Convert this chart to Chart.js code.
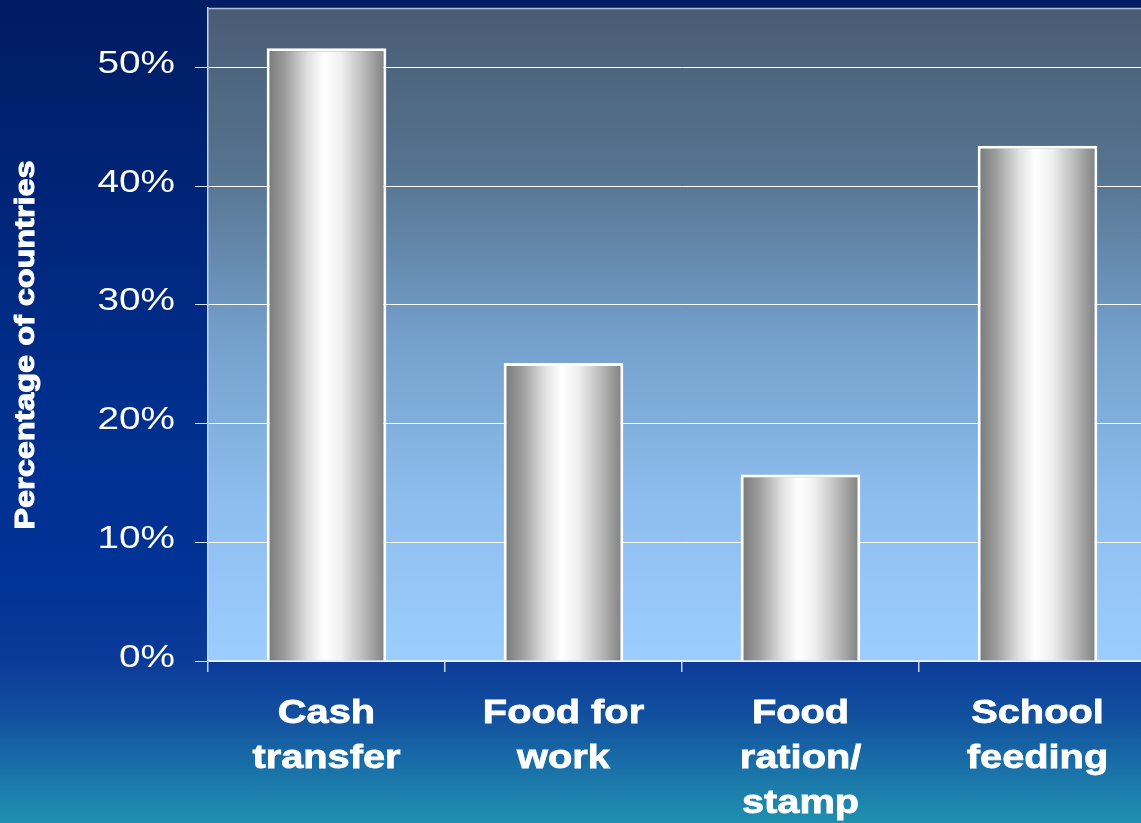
<!DOCTYPE html>
<html>
<head>
<meta charset="utf-8">
<title>Percentage of countries by programme type</title>
<script src="https://cdn.jsdelivr.net/npm/chart.js@4.4.1/dist/chart.umd.min.js"></script>
<style>
  html, body {
    margin: 0;
    padding: 0;
    width: 1141px;
    height: 823px;
    overflow: hidden;
    background: linear-gradient(to bottom,
      #001c62 0%, #002578 25%, #002f8e 50%, #003396 70%,
      #0a3a98 80%, #12509f 87%, #1a74a9 94%, #2090b0 100%);
  }
  canvas { display: block; }
</style>
</head>
<body>
<canvas id="chart" width="1160" height="823"></canvas>
<script>
// Programme types (each entry is split over lines for the axis labels)
const categories = [
  ['Cash', 'transfer'],
  ['Food for', 'work'],
  ['Food', 'ration/', 'stamp'],
  ['School', 'feeding']
];
// Share of countries running each programme, in percent
const shareOfCountries = [51.6, 25.1, 15.7, 43.4];
// Value axis
const yTickValues = [0, 10, 20, 30, 40, 50];
const yTickLabels = ['0%', '10%', '20%', '30%', '40%', '50%'];
const yAxisTitle = 'Percentage of countries';

const FONT = "'Liberation Sans', Arial, Helvetica, sans-serif";
const CAT_PCT = 1.0;
const BAR_PCT = 0.505;

// Horizontal chrome gradient for each bar, spanning the bar's own width
function barFill(c) {
  const chart = c.chart;
  const xs = chart.scales && chart.scales.x;
  if (!chart.chartArea || !xs || c.type !== 'data') return '#c8c8c8';
  const cx = xs.getPixelForValue(c.dataIndex);
  const w = (xs.width / categories.length) * CAT_PCT * BAR_PCT;
  const g = chart.ctx.createLinearGradient(cx - w / 2, 0, cx + w / 2, 0);
  g.addColorStop(0.00, '#777777');
  g.addColorStop(0.15, '#9c9c9c');
  g.addColorStop(0.35, '#e2e2e2');
  g.addColorStop(0.48, '#ffffff');
  g.addColorStop(0.62, '#f0f0f0');
  g.addColorStop(0.80, '#bdbdbd');
  g.addColorStop(1.00, '#7d7d7d');
  return g;
}

// Draws text stretched horizontally around its anchor
function wideText(ctx, text, x, y, sx, align, heavy) {
  ctx.save();
  ctx.translate(x, y);
  ctx.scale(sx, 1);
  ctx.textAlign = align;
  ctx.fillText(text, 0, 0);
  if (heavy) {
    ctx.lineWidth = heavy;
    ctx.strokeStyle = ctx.fillStyle;
    ctx.strokeText(text, 0, 0);
  }
  ctx.restore();
}

const decor = {
  id: 'decor',
  beforeDraw(chart) {
    const { ctx, chartArea: a } = chart;
    // plot area fill: slate at the top fading to sky blue
    const g = ctx.createLinearGradient(0, a.top, 0, a.bottom);
    g.addColorStop(0.00, '#495c76');
    g.addColorStop(0.25, '#56738f');
    g.addColorStop(0.50, '#739fca');
    g.addColorStop(0.75, '#8dbdee');
    g.addColorStop(1.00, '#9bcdfe');
    ctx.save();
    ctx.fillStyle = g;
    ctx.fillRect(a.left, a.top, a.right - a.left, a.bottom - a.top);
    ctx.restore();
  },
  afterDraw(chart) {
    const { ctx, chartArea: a } = chart;
    const xs = chart.scales.x, ys = chart.scales.y;
    ctx.save();
    // top frame line of the plot area
    ctx.strokeStyle = '#b4c0d2';
    ctx.lineWidth = 1.5;
    ctx.beginPath();
    ctx.moveTo(a.left, a.top + 0.5);
    ctx.lineTo(a.right, a.top + 0.5);
    ctx.stroke();

    ctx.fillStyle = '#ffffff';
    // value axis labels
    ctx.font = '31px ' + FONT;
    ctx.textBaseline = 'middle';
    yTickValues.forEach((v, i) => {
      wideText(ctx, yTickLabels[i], ys.right - 33, ys.getPixelForValue(v) - 3, 1.25, 'right', 0);
    });

    // category labels
    ctx.font = 'bold 34px ' + FONT;
    ctx.textBaseline = 'alphabetic';
    categories.forEach((lines, i) => {
      const cx = xs.getPixelForValue(i);
      lines.forEach((line, j) => {
        wideText(ctx, line, cx, xs.top + 62 + 45 * j, 1.17, 'center', 0.8);
      });
    });

    // rotated axis title
    ctx.font = 'bold 27px ' + FONT;
    ctx.textBaseline = 'middle';
    ctx.save();
    ctx.translate(27, 345);
    ctx.rotate(-Math.PI / 2);
    ctx.scale(1.2, 1);
    ctx.textAlign = 'center';
    ctx.fillText(yAxisTitle, 0, 0);
    ctx.lineWidth = 1;
    ctx.strokeStyle = '#ffffff';
    ctx.strokeText(yAxisTitle, 0, 0);
    ctx.restore();
    ctx.restore();
  }
};

new Chart(document.getElementById('chart'), {
  type: 'bar',
  data: {
    labels: categories,
    datasets: [{
      label: yAxisTitle,
      data: shareOfCountries,
      backgroundColor: barFill,
      borderColor: '#ffffff',
      borderWidth: 3,
      categoryPercentage: CAT_PCT,
      barPercentage: BAR_PCT
    }]
  },
  options: {
    responsive: false,
    animation: false,
    devicePixelRatio: 1,
    layout: { padding: { left: 0, top: 8, right: 4, bottom: 0 } },
    plugins: {
      legend: { display: false },
      tooltip: { enabled: false },
      title: { display: false }
    },
    scales: {
      x: {
        ticks: { display: false },
        grid: {
          offset: true,
          drawOnChartArea: false,
          drawTicks: true,
          tickLength: 11,
          tickColor: '#c8d4ea',
          lineWidth: 1.5
        },
        border: { color: '#dfe8f8', width: 1.5 },
        afterFit(scale) { scale.height = 162; }
      },
      y: {
        min: 0,
        max: 55,
        ticks: { display: false, stepSize: 10 },
        afterBuildTicks(scale) {
          scale.ticks = yTickValues.map(v => ({ value: v }));
        },
        grid: {
          color: '#ffffff',
          lineWidth: 1,
          drawTicks: true,
          tickLength: 13,
          tickColor: '#d8e2f2'
        },
        border: { color: '#c8d4ea', width: 1.5 },
        afterFit(scale) { scale.width = 208; }
      }
    }
  },
  plugins: [decor]
});
</script>
</body>
</html>
